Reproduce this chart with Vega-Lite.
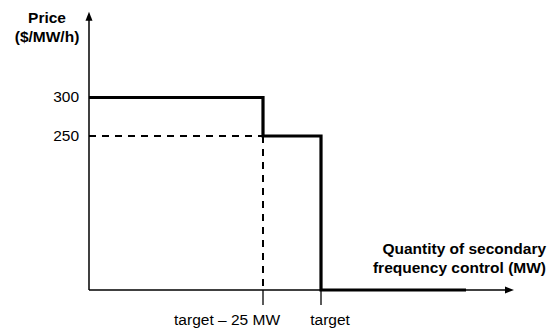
{
  "$schema": "https://vega.github.io/schema/vega-lite/v6.json",
  "width": 547,
  "height": 333,
  "autosize": {"type": "none"},
  "padding": 0,
  "background": "white",
  "config": {
    "view": {"stroke": null},
    "text": {"font": "Liberation Sans", "fontSize": 15.5, "color": "black"}
  },
  "datasets": {
    "axes": [
      {"x": 0, "y": 50, "x2": 0, "y2": 406},
      {"x": 0, "y": 50, "x2": 181, "y2": 50}
    ],
    "dashed": [
      {"x": 0, "y": 250, "x2": 75, "y2": 250},
      {"x": 75, "y": 250, "x2": 75, "y2": 50}
    ],
    "ticks": [
      {"x": 75, "y": 50, "x2": 75, "y2": 30.5},
      {"x": 100, "y": 50, "x2": 100, "y2": 30.5}
    ],
    "curve": [
      {"x": 0, "y": 300, "o": 1},
      {"x": 75, "y": 300, "o": 2},
      {"x": 75, "y": 250, "o": 3},
      {"x": 100, "y": 250, "o": 4},
      {"x": 100, "y": 50, "o": 5},
      {"x": 162.5, "y": 50, "o": 6}
    ],
    "arrows": [
      {"x": 0, "y": 405.6, "dir": "up"},
      {"x": 181.25, "y": 50, "dir": "right"}
    ],
    "ylabels": [
      {"x": -4.3, "y": 300, "t": "300"},
      {"x": -4.3, "y": 250, "t": "250"}
    ],
    "ytitle": [
      {"x": -18.1, "y": 396.4, "t": "Price"},
      {"x": -18.1, "y": 372.5, "t": "($/MW/h)"}
    ],
    "xtitle": [
      {"x": 197.0, "y": 96.4, "t": "Quantity of secondary"},
      {"x": 197.0, "y": 72.7, "t": "frequency control (MW)"}
    ],
    "xlabels": [
      {"x": 59.5, "y": 4.5, "t": "target – 25 MW"},
      {"x": 103.9, "y": 4.5, "t": "target"}
    ]
  },
  "layer": [
    {
      "data": {"name": "axes"},
      "mark": {"type": "rule", "strokeWidth": 1.5, "color": "black"},
      "encoding": {
        "x": {"field": "x", "type": "quantitative", "scale": {"domain": [-38.36, 197.41], "nice": false, "zero": false}, "axis": null},
        "y": {"field": "y", "type": "quantitative", "scale": {"domain": [-5.84, 426.6], "nice": false, "zero": false}, "axis": null},
        "x2": {"field": "x2"},
        "y2": {"field": "y2"}
      }
    },
    {
      "data": {"name": "ticks"},
      "mark": {"type": "rule", "strokeWidth": 1.3, "color": "black"},
      "encoding": {
        "x": {"field": "x", "type": "quantitative", "scale": {"domain": [-38.36, 197.41], "nice": false, "zero": false}, "axis": null},
        "y": {"field": "y", "type": "quantitative", "scale": {"domain": [-5.84, 426.6], "nice": false, "zero": false}, "axis": null},
        "x2": {"field": "x2"},
        "y2": {"field": "y2"}
      }
    },
    {
      "data": {"name": "dashed"},
      "mark": {"type": "rule", "strokeWidth": 2, "strokeDash": [7, 6], "color": "black"},
      "encoding": {
        "x": {"field": "x", "type": "quantitative", "scale": {"domain": [-38.36, 197.41], "nice": false, "zero": false}, "axis": null},
        "y": {"field": "y", "type": "quantitative", "scale": {"domain": [-5.84, 426.6], "nice": false, "zero": false}, "axis": null},
        "x2": {"field": "x2"},
        "y2": {"field": "y2"}
      }
    },
    {
      "data": {"name": "curve"},
      "mark": {"type": "line", "strokeWidth": 3.2, "color": "black", "strokeJoin": "miter", "strokeCap": "butt"},
      "encoding": {
        "x": {"field": "x", "type": "quantitative", "scale": {"domain": [-38.36, 197.41], "nice": false, "zero": false}, "axis": null},
        "y": {"field": "y", "type": "quantitative", "scale": {"domain": [-5.84, 426.6], "nice": false, "zero": false}, "axis": null},
        "order": {"field": "o", "type": "quantitative"}
      }
    },
    {
      "data": {"name": "arrows"},
      "mark": {"type": "point", "filled": true, "opacity": 1, "color": "black", "size": 81, "strokeWidth": 0},
      "encoding": {
        "x": {"field": "x", "type": "quantitative", "scale": {"domain": [-38.36, 197.41], "nice": false, "zero": false}, "axis": null},
        "y": {"field": "y", "type": "quantitative", "scale": {"domain": [-5.84, 426.6], "nice": false, "zero": false}, "axis": null},
        "shape": {"field": "dir", "type": "nominal", "legend": null, "scale": {"domain": ["up", "right"], "range": ["M0,-1L-0.78,1L0.78,1Z", "M1,0L-1,-0.78L-1,0.78Z"]}}
      }
    },
    {
      "data": {"name": "ylabels"},
      "mark": {"type": "text", "align": "right", "baseline": "middle"},
      "encoding": {
        "x": {"field": "x", "type": "quantitative", "scale": {"domain": [-38.36, 197.41], "nice": false, "zero": false}, "axis": null},
        "y": {"field": "y", "type": "quantitative", "scale": {"domain": [-5.84, 426.6], "nice": false, "zero": false}, "axis": null},
        "text": {"field": "t"}
      }
    },
    {
      "data": {"name": "ytitle"},
      "mark": {"type": "text", "align": "center", "baseline": "alphabetic", "fontWeight": "bold"},
      "encoding": {
        "x": {"field": "x", "type": "quantitative", "scale": {"domain": [-38.36, 197.41], "nice": false, "zero": false}, "axis": null},
        "y": {"field": "y", "type": "quantitative", "scale": {"domain": [-5.84, 426.6], "nice": false, "zero": false}, "axis": null},
        "text": {"field": "t"}
      }
    },
    {
      "data": {"name": "xtitle"},
      "mark": {"type": "text", "align": "right", "baseline": "alphabetic", "fontWeight": "bold"},
      "encoding": {
        "x": {"field": "x", "type": "quantitative", "scale": {"domain": [-38.36, 197.41], "nice": false, "zero": false}, "axis": null},
        "y": {"field": "y", "type": "quantitative", "scale": {"domain": [-5.84, 426.6], "nice": false, "zero": false}, "axis": null},
        "text": {"field": "t"}
      }
    },
    {
      "data": {"name": "xlabels"},
      "mark": {"type": "text", "align": "center", "baseline": "alphabetic"},
      "encoding": {
        "x": {"field": "x", "type": "quantitative", "scale": {"domain": [-38.36, 197.41], "nice": false, "zero": false}, "axis": null},
        "y": {"field": "y", "type": "quantitative", "scale": {"domain": [-5.84, 426.6], "nice": false, "zero": false}, "axis": null},
        "text": {"field": "t"}
      }
    }
  ]
}
